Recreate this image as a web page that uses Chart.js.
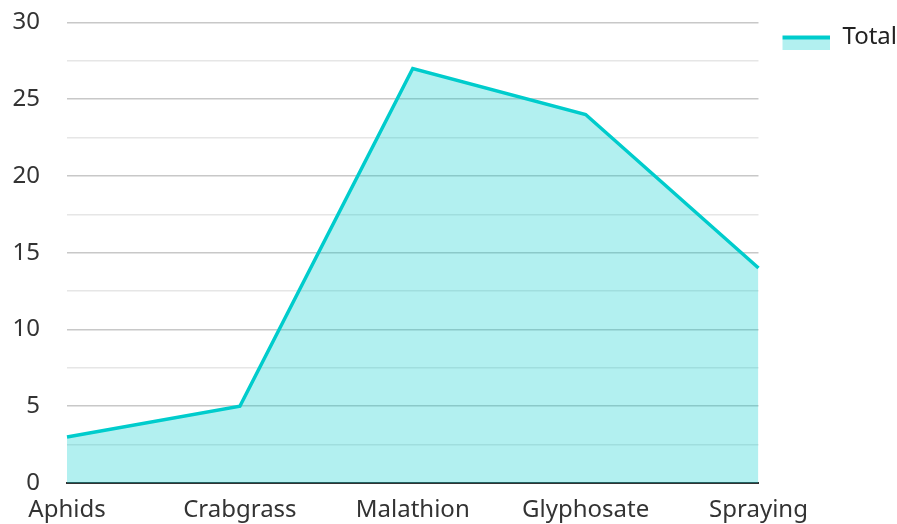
<!DOCTYPE html>
<html>
<head>
<meta charset="utf-8">
<script src="https://cdn.jsdelivr.net/npm/chart.js@4.4.1/dist/chart.umd.min.js"></script>
<style>
  html, body { margin: 0; padding: 0; background: #fff; }
  #wrap { width: 897px; height: 524px; }
</style>
</head>
<body>
<div id="wrap"><canvas id="chart"></canvas></div>
<script>
// Chart data
const categories = ['Aphids', 'Crabgrass', 'Malathion', 'Glyphosate', 'Spraying'];
const totals = [3, 5, 27, 24, 14];
const seriesLabel = 'Total';

const lineColor = 'rgb(0, 204, 204)';
const fillColor = 'rgba(0, 204, 204, 0.3)';

// Legend marker: light fill with a thick line along the top,
// drawn a little lower and to the right inside its image
const marker = document.createElement('canvas');
marker.width = 55;
marker.height = 25;
const mctx = marker.getContext('2d');
mctx.fillStyle = fillColor;
mctx.fillRect(7, 11, 48, 14);
mctx.fillStyle = lineColor;
mctx.fillRect(7, 11, 48, 4);

const ctx = document.getElementById('chart').getContext('2d');
new Chart(ctx, {
    type: 'line',
    data: {
        labels: categories,
        datasets: [{
            label: seriesLabel,
            data: totals,
            borderColor: lineColor,
            backgroundColor: fillColor,
            borderWidth: 3.5,
            fill: 'origin',
            pointRadius: 0,
            tension: 0,
            pointStyle: marker
        }]
    },
    options: {
        responsive: true,
        maintainAspectRatio: false,
        animation: false,
        layout: {
            padding: { left: 10, right: -10, top: 8, bottom: 0 }
        },
        plugins: {
            tooltip: { enabled: false },
            legend: {
                position: 'right',
                align: 'start',
                labels: {
                    usePointStyle: true,
                    pointStyleWidth: 55,
                    boxHeight: 14,
                    padding: 17,
                    color: '#222',
                    font: { family: 'Noto Sans', size: 24 }
                }
            }
        },
        scales: {
            x: {
                offset: false,
                afterFit: (scale) => { scale.height = 41; },
                grid: { display: false, drawTicks: false },
                border: { display: true, color: '#333', width: 2 },
                ticks: {
                    color: '#333',
                    padding: 13,
                    maxRotation: 0,
                    autoSkip: false,
                    font: { family: 'Noto Sans', size: 24 }
                }
            },
            y: {
                min: 0,
                max: 30,
                afterFit: (scale) => { scale.width = 57; },
                border: { display: false },
                grid: {
                    drawTicks: true,
                    tickLength: 19,
                    tickColor: 'rgba(0,0,0,0)',
                    color: (c) => (c.tick && c.tick.value % 5 === 0) ? '#c8c8c8' : '#e6e6e6',
                    lineWidth: 1.5
                },
                ticks: {
                    stepSize: 2.5,
                    padding: 8,
                    color: '#333',
                    font: { family: 'Noto Sans', size: 24 },
                    callback: (v) => (v % 5 === 0 ? v : '')
                }
            }
        }
    }
});
</script>
</body>
</html>
